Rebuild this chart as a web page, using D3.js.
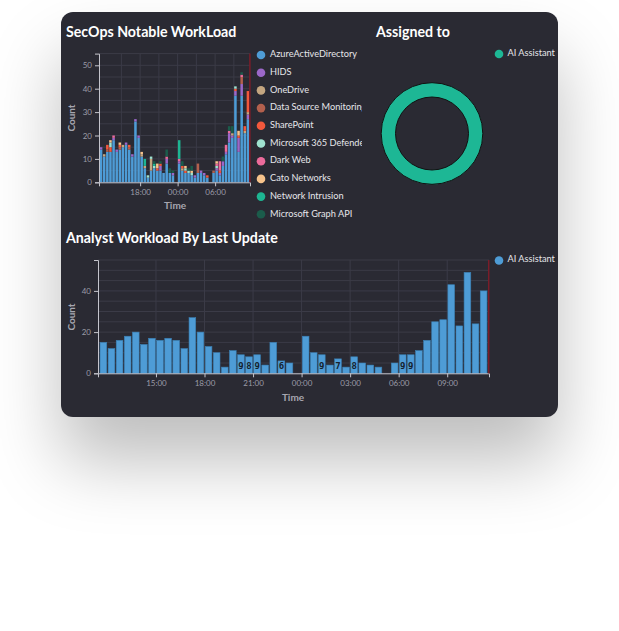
<!DOCTYPE html>
<html>
<head>
<meta charset="utf-8">
<script src="https://cdn.jsdelivr.net/npm/d3@7"></script>
<style>
  body { margin: 0; background: #fff; width: 619px; height: 631px; overflow: hidden; position: relative; font-family: Lato, "Open Sans", sans-serif; }
  #card { position: absolute; left: 61px; top: 12px; width: 497px; height: 405px; border-radius: 12px; background: #2a2a33;
          box-shadow: 0 44px 70px rgba(0,0,0,0.26); }
  svg { position: absolute; left: 0; top: 0; }
</style>
</head>
<body>
<div id="card"></div>
<svg id="chart" width="619" height="631"></svg>
<script>
// 30 minute bins, 48 of them, first one starts at 11:30
const firstBin = "2024-03-04T11:30";
const domainStart = "2024-03-04T11:25";
const domainEnd = "2024-03-05T11:35";
const nowMark = "2024-03-05T11:34";

// top chart: counts per source, per bin
const sourceNames = ["AzureActiveDirectory", "HIDS", "OneDrive", "Data Source Monitoring", "SharePoint",
  "Microsoft 365 Defender", "Dark Web", "Cato Networks", "Network Intrusion", "Microsoft Graph API"];
const sourceColors = ["#4e9cd6", "#9b68c9", "#c4a680", "#b3604d", "#f2583c",
  "#9fe2cf", "#ec6b9b", "#f7c38c", "#1db592", "#1b5c4b"];

const azureAD     = [14,11,13,13,18,13,14,15,16,14, 11,26,19,11,6,2,5,6,5,5, 4,8,4,3,0,8,5,4,4,3, 2,4,4,3,2,0,4,5,3,7, 12,17,19,37,13,37,21,27];
const hids        = [1,0,0,0,1,1,0,0,1,0, 1,1,1,0,0,0,0,0,0,2, 0,2,0,1,0,1,0,0,0,0, 1,0,1,1,0,0,0,1,1,2, 1,4,1,2,6,5,0,2];
const oneDrive    = [0,1,0,0,0,0,0,1,0,0, 0,0,0,1,1,0,5,0,0,0, 0,0,0,0,0,0,1,0,0,0, 0,0,0,0,0,0,0,0,0,0, 0,0,1,0,0,0,1,1];
const dataSource  = [0,0,1,0,0,0,1,0,0,1, 0,0,0,0,0,0,0,0,0,0, 0,0,0,0,0,0,0,0,0,0, 0,4,0,0,0,0,1,0,0,0, 0,0,0,0,0,3,0,0];
const sharePoint  = [0,0,2,2,0,0,1,0,0,1, 0,0,0,0,0,0,0,0,1,1, 0,0,0,0,0,0,1,1,0,0, 0,0,0,0,1,0,0,0,1,0, 0,0,0,1,1,0,2,9];
const m365        = [0,0,0,2,0,0,0,0,0,0, 0,0,0,0,0,1,1,1,0,0, 0,0,0,0,0,0,0,1,1,1, 0,0,0,0,0,0,0,1,0,0, 0,0,0,1,0,0,0,0];
const darkWeb     = [0,0,0,0,1,0,0,0,0,0, 0,0,0,0,0,0,0,0,0,0, 0,1,0,0,0,1,0,0,0,0, 0,0,0,0,0,0,0,1,4,0, 3,1,0,0,0,1,0,0];
const cato        = [0,0,0,1,0,0,1,0,0,0, 0,0,0,1,0,0,0,0,2,0, 0,0,0,0,0,0,0,1,0,1, 0,0,0,0,0,0,0,1,0,0, 0,0,0,0,2,0,0,0];
const netIntrusion= [0,0,0,0,0,0,0,0,0,0, 0,0,0,0,3,0,0,1,0,0, 0,0,0,0,0,8,0,0,0,0, 0,0,0,0,0,0,0,0,0,0, 0,0,0,0,0,0,0,0];
const graphApi    = [0,0,0,0,0,0,0,0,0,0, 0,0,0,0,0,0,0,1,0,1, 0,3,2,1,0,0,2,0,1,2, 0,0,0,0,0,0,0,0,0,2, 0,2,3,0,0,1,0,0];
const sourceValues = [azureAD, hids, oneDrive, dataSource, sharePoint, m365, darkWeb, cato, netIntrusion, graphApi];

// assigned to
const assignees = ["AI Assistant"];
const assignedCounts = [742];
const assignedColors = ["#1db795"];

// bottom chart: analyst workload by last update
const analystWorkload = [15,12,16,18,20,14,17,16,17,16, 12,27,20,13,10,3,11,9,8,9, 4,15,6,5,0,18,10,9,4,7, 3,8,5,4,3,0,5,9,9,11, 16,25,26,43,23,49,24,40];
const analystColor = "#4e9cd6";

// tick labels
const topTimeTicks = ["18:00", "00:00", "06:00"];
const timeGridTicks = ["15:00", "18:00", "21:00", "00:00", "03:00", "06:00", "09:00"];
const bottomTimeTicks = ["15:00", "18:00", "21:00", "00:00", "03:00", "06:00", "09:00"];
const topCountTicks = [0, 10, 20, 30, 40, 50];
const bottomCountTicks = [0, 20, 40];

const parse = d3.timeParse("%Y-%m-%dT%H:%M");
const t0 = parse(firstBin);
const bins = sourceValues[0].map((_, i) => d3.timeMinute.offset(t0, 30 * i));
// "HH:MM" -> date inside the window
const clock = s => {
  const [h, m] = s.split(":").map(Number);
  const d = new Date(t0); d.setHours(h, m, 0, 0);
  if (h * 60 + m < 11 * 60 + 30) d.setDate(d.getDate() + 1);
  return d;
};

const svg = d3.select("#chart");
const gridColor = "#3b3b47";
const axisColor = "#c4c4cc";
const tickText = "#9c9ca8";
const legendFont = "9.2px";

function title(x, y, txt) {
  svg.append("text").attr("x", x).attr("y", y).attr("fill", "#fff")
    .style("font-size", "14.2px").style("font-weight", "bold").text(txt);
}

function frame(x, y, gridY) {
  const g = svg.append("g");
  g.selectAll(".gy").data(gridY).join("line")
    .attr("x1", x.range()[0]).attr("x2", x.range()[1])
    .attr("y1", d => y(d)).attr("y2", d => y(d))
    .attr("stroke", gridColor).attr("stroke-width", 1);
  g.selectAll(".gx").data(timeGridTicks.map(clock)).join("line")
    .attr("x1", d => x(d)).attr("x2", d => x(d))
    .attr("y1", y.range()[0]).attr("y2", y.range()[1])
    .attr("stroke", gridColor).attr("stroke-width", 1);
  return g;
}

function styleAxis(g) {
  g.selectAll("path, line").attr("stroke", axisColor);
  g.selectAll("text").attr("fill", tickText).style("font-size", "8px").style("font-family", "Lato, sans-serif");
}

function axes(x, y, yTicks, xTicks, labels) {
  const ax = svg.append("g").attr("transform", `translate(0,${y.range()[0]})`)
    .call(d3.axisBottom(x).tickValues(xTicks.map(clock)).tickFormat(d3.timeFormat("%H:%M")).tickSize(4).tickPadding(3));
  styleAxis(ax);
  const ay = svg.append("g").attr("transform", `translate(${x.range()[0]},0)`)
    .call(d3.axisLeft(y).tickValues(yTicks).tickSize(4).tickPadding(3));
  styleAxis(ay);
  // now marker
  svg.append("line").attr("x1", x(parse(nowMark))).attr("x2", x(parse(nowMark)))
    .attr("y1", y.range()[1]).attr("y2", y.range()[0])
    .attr("stroke", "#7a1d29").attr("stroke-width", 1.5);
  svg.append("text").attr("transform", `translate(${labels.cx},${labels.cy}) rotate(-90)`)
    .attr("text-anchor", "middle").attr("dy", "0.35em").attr("fill", "#a6a6b0")
    .style("font-size", "10px").style("font-weight", "bold").text("Count");
  svg.append("text").attr("x", labels.tx).attr("y", labels.ty).attr("text-anchor", "middle")
    .attr("fill", "#a6a6b0").style("font-size", "10px").style("font-weight", "bold").text("Time");
}

// ---------- SecOps Notable WorkLoad ----------
title(66, 37, "SecOps Notable WorkLoad");
const x1 = d3.scaleTime().domain([parse(domainStart), parse(domainEnd)]).range([99, 250]);
const y1 = d3.scaleLinear().domain([0, 55]).range([182.3, 53.6]);
frame(x1, y1, d3.range(0, 56, 5));

const rows = bins.map((t, i) => {
  const r = { time: t };
  sourceNames.forEach((n, k) => r[n] = sourceValues[k][i]);
  return r;
});
const stacked = d3.stack().keys(sourceNames)(rows);
svg.append("g").selectAll("g").data(stacked).join("g")
  .attr("fill", (d, k) => sourceColors[k])
  .selectAll("rect").data(d => d).join("rect")
  .attr("x", d => x1(d.data.time) + 0.3)
  .attr("width", d => x1(d3.timeMinute.offset(d.data.time, 30)) - x1(d.data.time) - 0.6)
  .attr("y", d => y1(d[1]))
  .attr("height", d => y1(d[0]) - y1(d[1]));
axes(x1, y1, topCountTicks, topTimeTicks, { cx: 71, cy: 118, tx: 175, ty: 209 });

// legend, clipped like the original
svg.append("clipPath").attr("id", "legclip").append("rect")
  .attr("x", 250).attr("y", 40).attr("width", 112).attr("height", 190);
const leg = svg.append("g").attr("clip-path", "url(#legclip)");
const legItem = leg.selectAll("g").data(sourceNames).join("g")
  .attr("transform", (d, i) => `translate(261,${54 + i * 17.7})`);
legItem.append("circle").attr("r", 4.3).attr("cy", 1).attr("fill", (d, i) => sourceColors[i]);
legItem.append("text").attr("x", 9).attr("dy", "0.35em").attr("fill", "#e6e6ea")
  .style("font-size", legendFont).text(d => d);

// ---------- Assigned to ----------
title(376, 37, "Assigned to");
const pie = d3.pie().sort(null)(assignedCounts);
const arc = d3.arc().innerRadius(36.5).outerRadius(50.8);
svg.append("g").attr("transform", "translate(432,133.5)")
  .selectAll("path").data(pie).join("path")
  .attr("d", arc).attr("fill", (d, i) => assignedColors[i])
  .attr("stroke", "#111").attr("stroke-width", 1);
const aleg = svg.append("g").selectAll("g").data(assignees).join("g")
  .attr("transform", (d, i) => `translate(499,${54 + i * 17.7})`);
aleg.append("circle").attr("r", 4.3).attr("fill", (d, i) => assignedColors[i]);
aleg.append("text").attr("x", 8.5).attr("dy", "0.2em").attr("fill", "#e6e6ea")
  .style("font-size", legendFont).text(d => d);

// ---------- Analyst Workload By Last Update ----------
title(66, 243, "Analyst Workload By Last Update");
const x2 = d3.scaleTime().domain([parse(domainStart), parse(domainEnd)]).range([98, 489]);
const y2 = d3.scaleLinear().domain([0, 55]).range([373.3, 260]);
frame(x2, y2, d3.range(0, 56, 5));

const bars = svg.append("g").selectAll("g").data(analystWorkload.map((v, i) => ({ t: bins[i], v })).filter(d => d.v > 0))
  .join("g");
bars.append("rect")
  .attr("x", d => x2(d.t) + 0.7)
  .attr("width", d => x2(d3.timeMinute.offset(d.t, 30)) - x2(d.t) - 1.4)
  .attr("y", d => y2(d.v))
  .attr("height", d => y2(0) - y2(d.v))
  .attr("fill", analystColor).attr("stroke", "#3a7fb3").attr("stroke-width", 0.6);
bars.filter(d => String(d.v).length === 1 && y2(0) - y2(d.v) >= 12)
  .append("text")
  .attr("x", d => (x2(d.t) + x2(d3.timeMinute.offset(d.t, 30))) / 2)
  .attr("y", y2(0) - 4)
  .attr("text-anchor", "middle").attr("fill", "#16222c")
  .style("font-size", "9px").style("font-weight", "bold").style("font-family", "DejaVu Sans Mono, monospace")
  .text(d => d.v);
axes(x2, y2, bottomCountTicks, bottomTimeTicks, { cx: 71, cy: 317, tx: 293, ty: 401 });

const bleg = svg.append("g").attr("transform", "translate(499,260.5)");
bleg.append("circle").attr("r", 4.3).attr("fill", analystColor);
bleg.append("text").attr("x", 8.5).attr("dy", "0.2em").attr("fill", "#e6e6ea")
  .style("font-size", legendFont).text("AI Assistant");
</script>
</body>
</html>
